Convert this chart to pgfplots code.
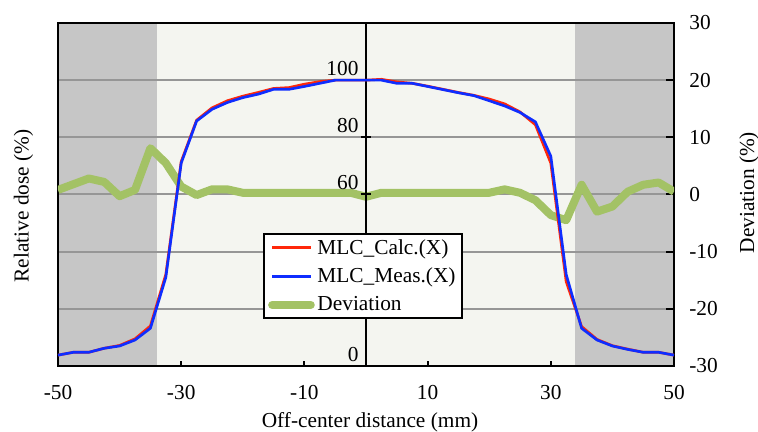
\documentclass[border=0pt]{standalone}
\usepackage{fontspec}
\setmainfont{Liberation Serif}
\usepackage{pgfplots}
\usepackage{pgfplotstable}
\pgfplotsset{compat=1.18}

\definecolor{calc}{RGB}{255,40,10}
\definecolor{meas}{RGB}{15,45,255}
\definecolor{dev}{RGB}{163,194,101}
\definecolor{outgray}{RGB}{198,198,198}
\definecolor{field}{RGB}{244,245,240}
\definecolor{gridc}{RGB}{150,150,150}

% off-center distance (mm), calculated / measured dose (%), deviation (%)
\pgfplotstableread{
x     calc   meas   dev
-50   3.8    3.8    0.8
-47.5 4.8    4.8    1.8
-45   4.8    4.8    2.8
-42.5 6.2    6.2    2.2
-40   7.2    7.0   -0.3
-37.5 9.5    9.1    0.8
-35   14.0   13.2   8.1
-32.5 32.0   31.0   5.5
-30   71.5   71.0   1.4
-27.5 86.0   85.7  -0.1
-25   90.3   89.8   0.9
-22.5 92.8   92.2   0.9
-20   94.4   93.9   0.3
-17.5 95.7   95.1   0.3
-15   97.1   96.8   0.3
-12.5 97.4   96.8   0.3
-10   98.6   97.8   0.3
-7.5  99.5   98.9   0.3
-5    100    100    0.3
-2.5  100    100    0.3
0     100    100   -0.4
2.5   100.3  100    0.3
5     99.4   98.9   0.3
7.5   98.9   98.9   0.3
10    97.9   97.8   0.3
12.5  96.8   96.7   0.3
15    95.7   95.6   0.3
17.5  94.7   94.6   0.3
20    93.4   92.8   0.3
22.5  91.7   91.0   0.9
25    88.9   88.7   0.3
27.5  84.4   85.4  -1.0
30    71.0   73.4  -3.6
32.5  29.5   32.0  -4.5
35    13.8   13.2   1.7
37.5  9.3    9.1   -3.0
40    7.1    7.0   -2.1
42.5  5.9    5.8    0.5
45    4.8    4.8    1.7
47.5  4.8    4.8    2.1
50    3.8    3.8    0.5
}\profile

\begin{document}
\begin{tikzpicture}[font=\fontsize{16}{19}\selectfont]
% deviation axis (right), background and frame
\begin{axis}[
    set layers,
    scale only axis,
    width=462pt, height=257.25pt,
    xmin=-50, xmax=50,
    ymin=-30, ymax=30,
    xtick={-50,-30,...,50},
    ytick={-30,-20,...,30},
    xtick pos=bottom, ytick pos=right,
    yticklabel pos=right,
    tick align=inside,
    xtick style={black, line width=1.5pt, /pgfplots/major tick length=4pt},
    ytick style={black, line width=1.5pt, /pgfplots/major tick length=6pt},
    axis line style={black, line width=1.5pt},
    ymajorgrids,
    grid style={gridc, line width=1.5pt},
    /pgf/number format/assume math mode=true,
    xticklabel style={yshift=-10.7pt},
    yticklabel style={xshift=8pt},
]
\pgfonlayer{axis background}
\fill[field] (axis cs:-34,-30) rectangle (axis cs:34,30);
\fill[outgray] (axis cs:-50,-30) rectangle (axis cs:-34,30);
\fill[outgray] (axis cs:34,-30) rectangle (axis cs:50,30);
\endpgfonlayer
\addplot[dev, line width=6pt, line join=round] table[x=x, y=dev] {\profile};
\end{axis}

% dose axis (left scale drawn on the centre line)
\begin{axis}[
    scale only axis,
    width=462pt, height=257.25pt,
    xmin=-50, xmax=50,
    ymin=0, ymax=120,
    axis x line=none,
    axis y line=center,
    y axis line style={-, black, line width=1.5pt},
    ytick={0,20,...,120},
    yticklabels={0,{},{},60,80,100,{}},
    tick align=center,
    ytick style={black, line width=1.5pt, /pgfplots/major tick length=8pt},
    yticklabel style={anchor=south east},
    legend style={
        at={(axis description cs:0.333,0.388)}, anchor=north west,
        draw=black, line width=1.5pt, fill=white,
        inner xsep=3pt, inner ysep=2pt,
        row sep=5pt,
    },
    legend cell align=left,
    legend image code/.code={\draw[#1] (0pt,0pt) -- (29pt,0pt);},
]
\addplot[calc, line width=2pt, line join=round] table[x=x, y=calc] {\profile};
\addplot[meas, line width=2pt, line join=round] table[x=x, y=meas] {\profile};
\addlegendimage{dev, line width=6pt, line cap=round}
\legend{MLC\_Calc.(X), MLC\_Meas.(X), Deviation}
\end{axis}

\node[rotate=90] at (-25.9pt,120pt) {Relative dose (\%)};
\node[rotate=90] at (518.25pt,130pt) {Deviation (\%)};
\node[anchor=base] at (234pt,-46.5pt) {Off-center distance (mm)};

\pgfresetboundingbox
\path (-43.5pt,-49.5pt) rectangle (525pt,274.5pt);
\end{tikzpicture}
\end{document}
